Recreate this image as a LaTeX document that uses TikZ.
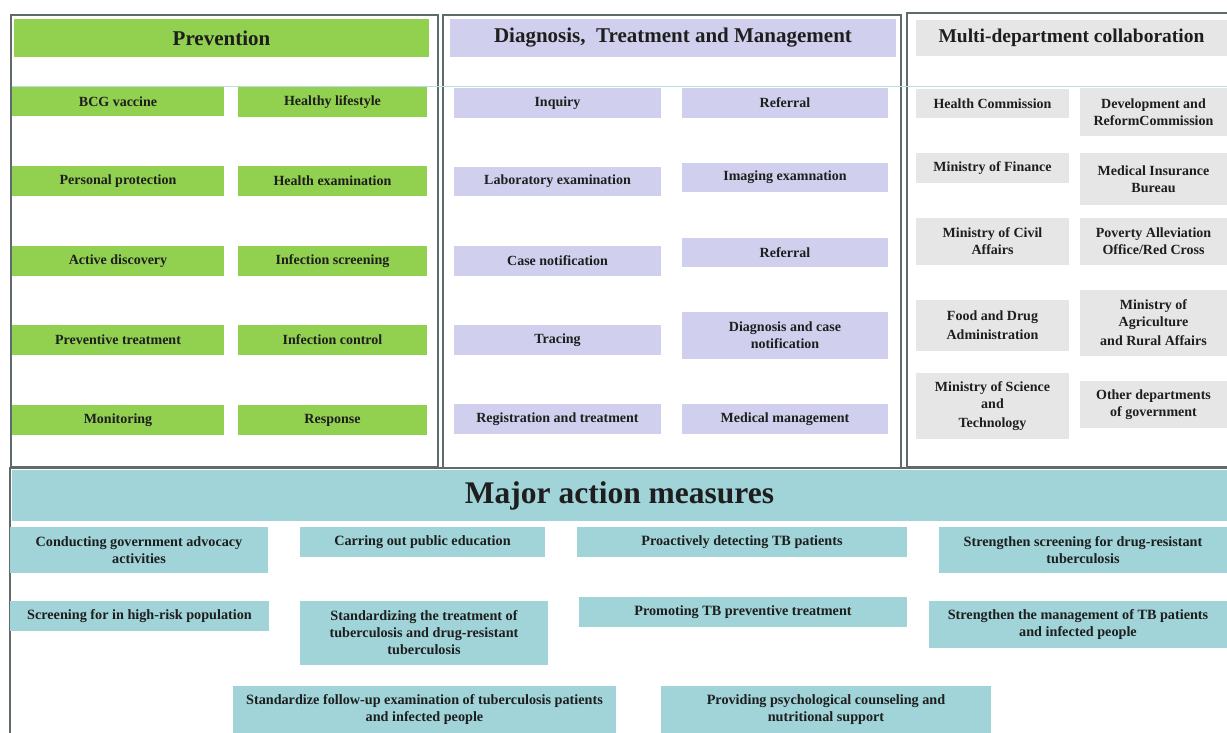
\documentclass[tikz,border=0pt]{standalone}
\usepackage{fontspec}
\setmainfont{Liberation Serif}
\definecolor{pgreen}{HTML}{92D050}
\definecolor{plav}{HTML}{D0D0EE}
\definecolor{pgray}{HTML}{E6E6E6}
\definecolor{pteal}{HTML}{A0D4D8}
\definecolor{pframe}{HTML}{5F6B6B}
\definecolor{ptext}{HTML}{1E1E1E}
\definecolor{pline}{HTML}{B4E0E2}
\newcommand{\bx}[7]{\node[#6, minimum width={(#4-#2)*1pt}, minimum height={(#5-#3)*1pt}] (#1) at ({(#2+#4)/2},{(#3+#5)/2}) {#7};}
\begin{document}
\begin{tikzpicture}[x=1pt,y=-1pt,
  boxbase/.style={inner sep=0pt, outer sep=0pt, align=center, text=ptext, font=\bfseries\fontsize{14}{17}\selectfont},
  gbox/.style={boxbase, fill=pgreen},
  lbox/.style={boxbase, fill=plav},
  ybox/.style={boxbase, fill=pgray},
  tbox/.style={boxbase, fill=pteal, font=\bfseries\fontsize{14.2}{17}\selectfont},
  gtitle/.style={gbox, font=\bfseries\fontsize{21}{24}\selectfont},
  ltitle/.style={lbox, font=\bfseries\fontsize{21}{24}\selectfont},
  ytitle/.style={ybox, font=\bfseries\fontsize{19.5}{22}\selectfont},
  ttitle/.style={tbox, font=\bfseries\fontsize{31.5}{34}\selectfont},
  frame/.style={draw=pframe, line width=1.8pt}]
\useasboundingbox (0,0) rectangle (1227,733);
% frames
\draw[frame] (11,15) rectangle (438,467);
\draw[frame] (443,15) rectangle (901,468);
\draw[frame] (907,13) rectangle (1235,467);
\draw[frame] (10,740) -- (10,468) -- (1235,468);
% Prevention
\bx{ptitle}{14}{19}{429}{57}{gtitle}{Prevention}
\bx{p1}{12}{87}{224}{116}{gbox}{BCG vaccine}
\bx{p2}{238}{87}{427}{117}{gbox}{Healthy lifestyle}
\bx{p3}{12}{166}{224}{196}{gbox}{Personal protection}
\bx{p4}{238}{166}{427}{196}{gbox}{Health examination}
\bx{p5}{12}{246}{224}{276}{gbox}{Active discovery}
\bx{p6}{238}{246}{427}{276}{gbox}{Infection screening}
\bx{p7}{12}{325}{224}{355}{gbox}{Preventive treatment}
\bx{p8}{238}{325}{427}{355}{gbox}{Infection control}
\bx{p9}{12}{405}{224}{435}{gbox}{Monitoring}
\bx{p10}{238}{405}{427}{435}{gbox}{Response}
% Diagnosis
\bx{dtitle}{450}{19}{896}{57}{ltitle}{Diagnosis,\ \ Treatment and Management}
\bx{d1}{454}{88}{661}{118}{lbox}{Inquiry}
\bx{d2}{682}{88}{888}{118}{lbox}{Referral}
\bx{d3}{454}{167}{661}{196}{lbox}{Laboratory examination}
\bx{d4}{682}{163}{888}{192}{lbox}{Imaging examnation}
\bx{d5}{454}{246}{661}{276}{lbox}{Case notification}
\bx{d6}{682}{238}{888}{267}{lbox}{Referral}
\bx{d7}{454}{325}{661}{355}{lbox}{Tracing}
\bx{d8}{682}{312}{888}{359}{lbox}{Diagnosis and case\\notification}
\bx{d9}{454}{404}{661}{434}{lbox}{Registration and treatment}
\bx{d10}{682}{404}{888}{434}{lbox}{Medical management}
% Multi-department
\bx{mtitle}{916}{20}{1227}{56}{ytitle}{Multi-department collaboration}
\bx{m1}{916}{89}{1069}{118}{ybox}{Health Commission}
\bx{m2}{1080}{88}{1227}{136}{ybox}{Development and\\ReformCommission}
\bx{m3}{916}{153}{1069}{183}{ybox}{Ministry of Finance}
\bx{m4}{1080}{153}{1227}{205}{ybox}{Medical Insurance\\Bureau}
\bx{m5}{916}{218}{1069}{265}{ybox}{Ministry of Civil\\Affairs}
\bx{m6}{1080}{218}{1227}{265}{ybox}{Poverty Alleviation\\Office/Red Cross}
\bx{m7}{916}{300}{1069}{351}{ybox}{Food and Drug\\[2pt]Administration}
\bx{m8}{1080}{290}{1227}{356}{ybox}{Ministry of\\Agriculture\\[2pt]and Rural Affairs}
\bx{m9}{916}{373}{1069}{439}{ybox}{Ministry of Science\\and\\[2pt]Technology}
\bx{m10}{1080}{381}{1227}{428}{ybox}{Other departments\\of government}
% thin line
\coordinate (la) at (12,86);
\coordinate (lb) at (1227,86);
\draw[pline, line width=0.6pt] (la) -- (lb);
% Major action measures
\bx{atitle}{12}{470}{1227}{521}{ttitle}{Major action measures}
\bx{a1}{10}{527}{268}{573}{tbox}{Conducting government advocacy\\activities}
\bx{a2}{300}{527}{545}{557}{tbox}{Carring out public education}
\bx{a3}{577}{527}{907}{557}{tbox}{Proactively detecting TB patients}
\bx{a4}{939}{527}{1227}{573}{tbox}{Strengthen screening for drug-resistant\\tuberculosis}
\bx{a5}{10}{601}{269}{631}{tbox}{Screening for in high-risk population}
\bx{a6}{300}{601}{548}{665}{tbox}{Standardizing the treatment of\\tuberculosis and drug-resistant\\tuberculosis}
\bx{a7}{579}{597}{907}{627}{tbox}{Promoting TB preventive treatment}
\bx{a8}{929}{601}{1227}{648}{tbox}{Strengthen the management of TB patients\\and infected people}
\bx{a9}{233}{686}{616}{733}{tbox}{Standardize follow-up examination of tuberculosis patients\\and infected people}
\bx{a10}{661}{686}{991}{733}{tbox}{Providing psychological counseling and\\nutritional support}
\end{tikzpicture}
\end{document}
